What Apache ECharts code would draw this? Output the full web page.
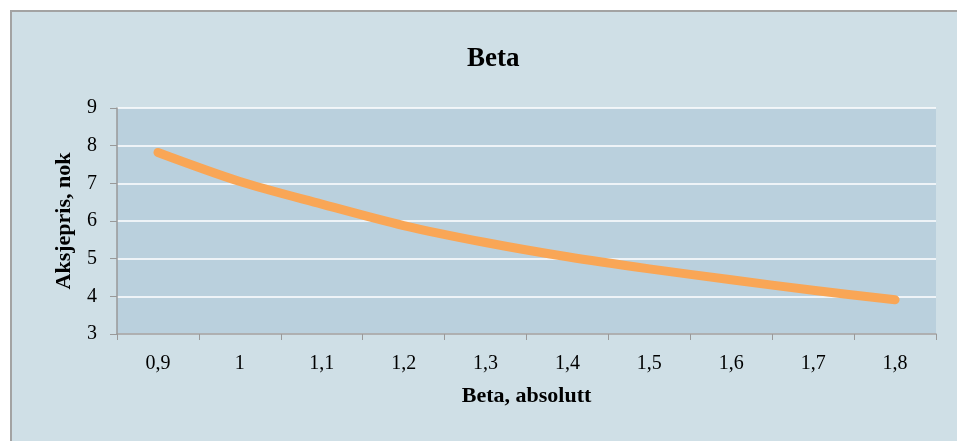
<!DOCTYPE html>
<html>
<head>
<meta charset="utf-8">
<style>
  body { margin: 0; background: #fff; }
  #panel { position: absolute; left: 10px; top: 10px; width: 947px; height: 431px;
           background: #cfdfe6; border-left: 2px solid #a3a3a3; border-top: 2px solid #a3a3a3; box-sizing: border-box; }
  #container { position: absolute; left: 0; top: 0; width: 957px; height: 441px; }
</style>
</head>
<body>
<div id="panel"></div>
<div id="container"></div>
<script src="https://cdn.jsdelivr.net/npm/echarts@6/dist/echarts.min.js"></script>
<script>
var categories = ['0,9', '1', '1,1', '1,2', '1,3', '1,4', '1,5', '1,6', '1,7', '1,8'];
var prices = [7.82, 7.05, 6.45, 5.88, 5.43, 5.05, 4.73, 4.44, 4.16, 3.91];

var serif = '"Liberation Serif", "DejaVu Serif", serif';
var chart = echarts.init(document.getElementById('container'));

var option = {
    backgroundColor: 'transparent',
    animation: false,
    title: {
        text: 'Beta',
        left: 462,
        top: 41,
        textStyle: { fontFamily: serif, fontWeight: 'bold', fontSize: 27, color: '#000' }
    },
    grid: {
        left: 117, right: 21, top: 108, bottom: 107,
        show: true,
        backgroundColor: '#bad0dd',
        borderWidth: 0
    },
    xAxis: {
        type: 'category',
        data: categories,
        boundaryGap: true,
        name: 'Beta, absolutt',
        nameLocation: 'middle',
        nameGap: 51,
        nameTextStyle: { fontFamily: serif, fontWeight: 'bold', fontSize: 22, color: '#000' },
        axisLine: { lineStyle: { color: '#999', width: 1.5 } },
        axisTick: { show: true, length: 6, alignWithLabel: false, lineStyle: { color: '#999' } },
        axisLabel: { fontFamily: serif, fontSize: 20, color: '#000', margin: 20 }
    },
    yAxis: {
        type: 'value',
        min: 3,
        max: 9,
        interval: 1,
        name: 'Aksjepris, nok',
        nameLocation: 'middle',
        nameGap: 42,
        nameTextStyle: { fontFamily: serif, fontWeight: 'bold', fontSize: 22, color: '#000' },
        axisLine: { show: true, lineStyle: { color: '#999', width: 1.5 } },
        axisTick: { show: true, length: 7, lineStyle: { color: '#999' } },
        axisLabel: { fontFamily: serif, fontSize: 20, color: '#000', margin: 20 },
        splitLine: { show: true, lineStyle: { color: '#ffffff', width: 1.5 } }
    },
    series: [{
        name: 'Beta',
        type: 'line',
        data: prices,
        smooth: 0.3,
        symbol: 'none',
        lineStyle: { color: '#f9a656', width: 9, cap: 'round', join: 'round' }
    }]
};
chart.setOption(option);
</script>
</body>
</html>
